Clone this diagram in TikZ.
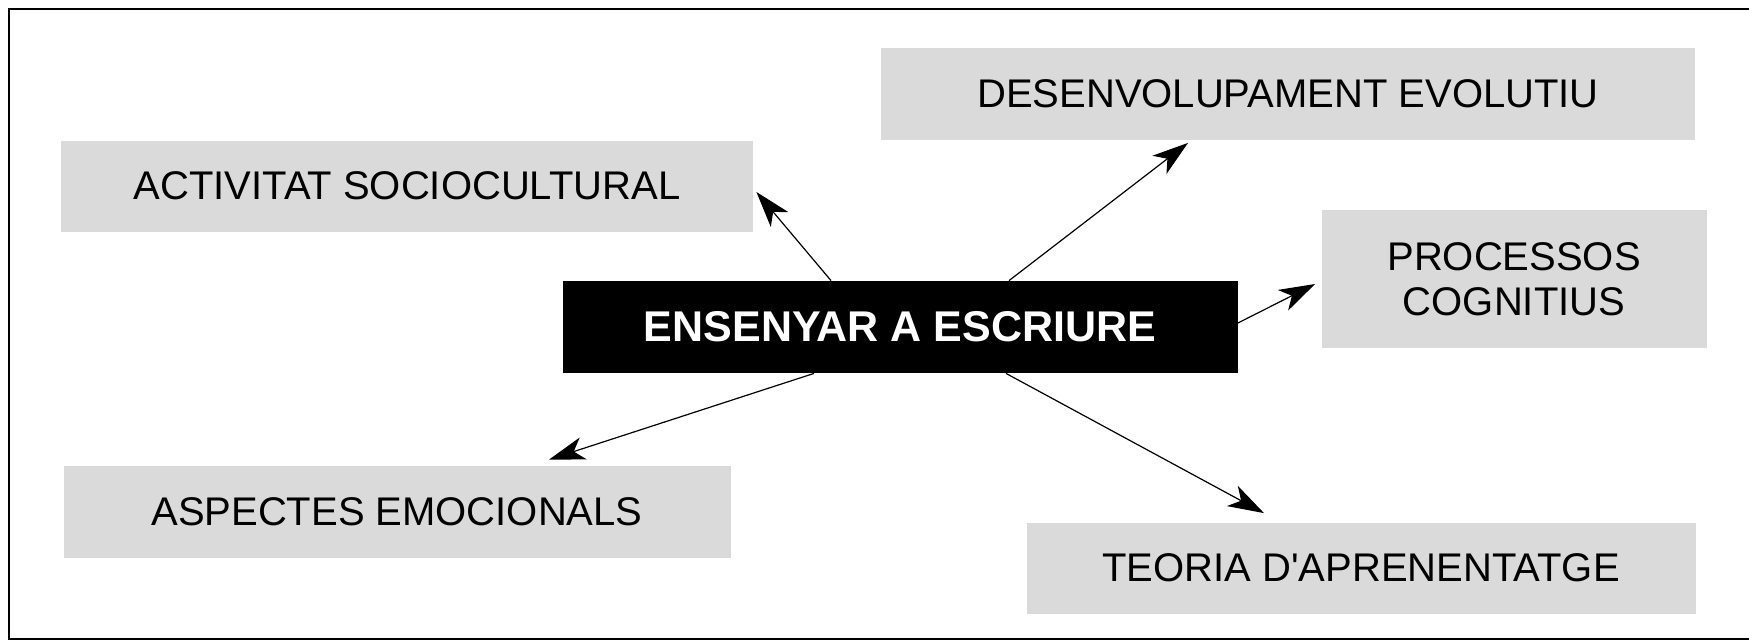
\documentclass[tikz,border=0pt]{standalone}
\usepackage{fontspec}
\setmainfont{Liberation Sans}
\usetikzlibrary{arrows.meta,calc}
\definecolor{boxgray}{RGB}{218,218,218}

\begin{document}
\begin{tikzpicture}[x=0.5pt,y=-0.5pt,
  tema/.style={fill=boxgray,inner sep=0pt,align=center,font=\fontsize{20}{22.5}\selectfont},
  centre/.style={fill=black,text=white,inner sep=0pt,font=\fontsize{21.5}{24}\selectfont\bfseries},
  fletxa/.style={line width=0.6pt,-{Stealth[length=18pt,width=11.5pt,inset=5pt]}}]
\useasboundingbox[fill=white] (0,0) rectangle (1749,642);
\draw[line width=0.8pt] (1749,9) -- (9,9) -- (9,639) -- (1749,639);
\node[centre,minimum width=337.5pt,minimum height=46pt] (cen) at (900,327) {ENSENYAR A ESCRIURE};
\node[tema,minimum width=346pt,minimum height=45.5pt] (act) at (407,186) {ACTIVITAT SOCIOCULTURAL};
\node[tema,minimum width=407pt,minimum height=45.5pt] (des) at (1288,94) {DESENVOLUPAMENT EVOLUTIU};
\node[tema,minimum width=192.5pt,minimum height=69pt] (pro) at (1514,279) {PROCESSOS\\COGNITIUS};
\node[tema,minimum width=333.5pt,minimum height=46pt] (asp) at (397,512) {ASPECTES EMOCIONALS};
\node[tema,minimum width=334.5pt,minimum height=45.5pt] (teo) at (1361,568) {TEORIA D\textquotesingle APRENENTATGE};
\draw[fletxa] ($(cen.north)+(-69,0)$) -- ($(act.east)+(3,6)$);
\draw[fletxa] ($(cen.north)+(109,0)$) -- ($(des.south)+(-100,3)$);
\draw[fletxa] ($(cen.east)+(0,-4)$) -- ($(pro.west)+(-6,5)$);
\draw[fletxa] ($(cen.south)+(-86,0)$) -- ($(asp.north)+(152,-6)$);
\draw[fletxa] ($(cen.south)+(106,0)$) -- ($(teo.north)+(-97,-9)$);
\end{tikzpicture}
\end{document}
